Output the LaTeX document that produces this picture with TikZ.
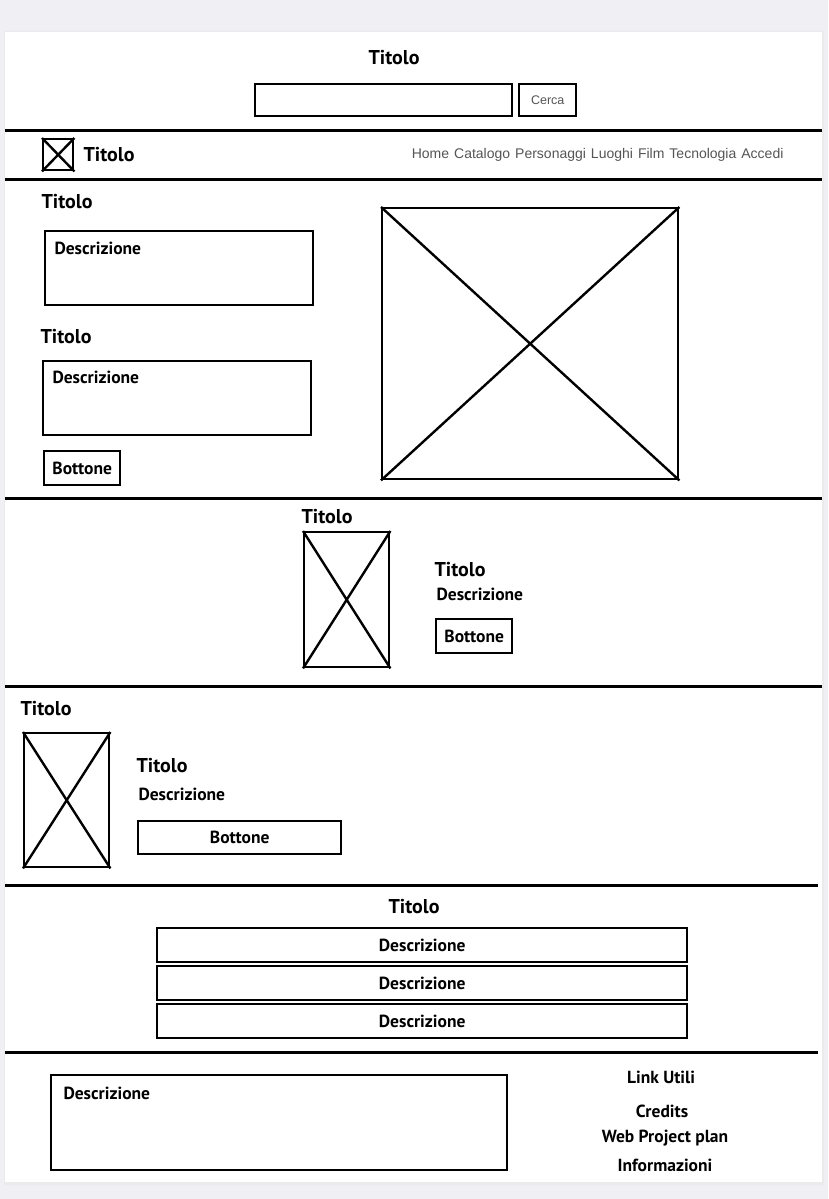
\documentclass[tikz,border=0pt]{standalone}
\usepackage{fontspec}
\setmainfont{PT Sans}
\newfontfamily\navfont{Liberation Sans}
\usetikzlibrary{positioning}

\definecolor{pagebg}{HTML}{EFEFF4}
\definecolor{navgray}{HTML}{555555}

\newcommand{\imgcross}[1]{\draw[line width=2.4pt] (#1.north west) -- (#1.south east) (#1.north east) -- (#1.south west);}

\begin{document}
\begin{tikzpicture}[x=1pt, y=-1pt,
  box/.style = {draw, line width=2.4pt, inner sep=0pt, anchor=north west},
  sep/.style = {line width=3pt},
  hand/.style = {font=\bfseries\fontsize{17.5}{19}\selectfont},
  head/.style = {font=\bfseries\fontsize{20}{22}\selectfont},
  nav/.style = {font=\navfont\fontsize{14}{16}\selectfont, text=navgray}]

% page and card
\useasboundingbox (0,0) rectangle (828,1199);
\fill[pagebg] (0,0) rectangle (828,1199);
\fill[black!8] (4,31) rectangle (824,1185);
\fill[white] (5,32) rectangle (822,1182);

% header
\node[head] (toptitle) at (394,58) {Titolo};
\node[box, minimum width=257, minimum height=32] (search) at (254,83) {};
\node[box, minimum width=57, minimum height=32] (cerca) at (518,83) {};
\node[font=\navfont\fontsize{12.5}{14}\selectfont, text=navgray] at (cerca.center) {Cerca};
\draw[sep] (5,130) -- (822,130);

% nav bar
\node[box, minimum width=30, minimum height=31] (logo) at (42,138) {};
\imgcross{logo}
\node[head, anchor=west] (navtitle) at (80,155) {Titolo};
\node[nav, anchor=east] (links) at (787,155) {Home\hspace{5pt}Catalogo\hspace{5pt}Personaggi\hspace{5pt}Luoghi\hspace{5pt}Film\hspace{5pt}Tecnologia\hspace{5pt}Accedi};
\draw[sep] (5,179) -- (822,179);

% hero
\node[head, anchor=west] (t1) at (38,202) {Titolo};
\node[box, minimum width=268, minimum height=74] (desc1) at (44,230) {};
\node[hand, anchor=west] at (51,248) {Descrizione};
\node[head, anchor=west] (t2) at (37,337) {Titolo};
\node[box, minimum width=268, minimum height=74] (desc2) at (42,360) {};
\node[hand, anchor=west] at (49,377) {Descrizione};
\node[box, minimum width=76, minimum height=34] (btn1) at (43,450) {};
\node[hand] at (btn1.center) {Bottone};
\node[box, minimum width=296, minimum height=271] (hero) at (381,207) {};
\imgcross{hero}
\draw[sep] (5,498) -- (822,498);

% card centred
\node[head, anchor=west] (t3) at (298,517) {Titolo};
\node[box, minimum width=85, minimum height=135] (img2) at (303,531) {};
\imgcross{img2}
\node[head, anchor=west] (t4) at (431,570) {Titolo};
\node[hand, anchor=west] (d4) at (433,594) {Descrizione};
\node[box, minimum width=76, minimum height=34] (btn2) at (435,618) {};
\node[hand] at (btn2.center) {Bottone};
\draw[sep] (5,686) -- (822,686);

% card left
\node[head, anchor=west] (t5) at (17,709) {Titolo};
\node[box, minimum width=85, minimum height=134] (img3) at (23,732) {};
\imgcross{img3}
\node[head, anchor=west] (t6) at (133,766) {Titolo};
\node[hand, anchor=west] (d6) at (135,794) {Descrizione};
\node[box, minimum width=203, minimum height=33] (btn3) at (137,820) {};
\node[hand] at (btn3.center) {Bottone};
\draw[sep] (5,885) -- (818,885);

% list
\node[head] (t7) at (414,907) {Titolo};
\node[box, minimum width=530, minimum height=34] (row1) at (156,927) {};
\node[hand] at (row1.center) {Descrizione};
\node[box, minimum width=530, minimum height=34] (row2) at (156,965) {};
\node[hand] at (row2.center) {Descrizione};
\node[box, minimum width=530, minimum height=34] (row3) at (156,1003) {};
\node[hand] at (row3.center) {Descrizione};
\draw[sep] (5,1052) -- (818,1052);

% footer
\node[box, minimum width=456, minimum height=95] (foot) at (50,1074) {};
\node[hand, anchor=west] at (60,1093) {Descrizione};
\node[hand] (links1) at (661,1077) {Link Utili};
\node[hand] (credits) at (662,1111) {Credits};
\node[hand] (plan) at (665,1138) {Web Project plan};
\node[hand] (info) at (665,1165) {Informazioni};
\end{tikzpicture}
\end{document}
